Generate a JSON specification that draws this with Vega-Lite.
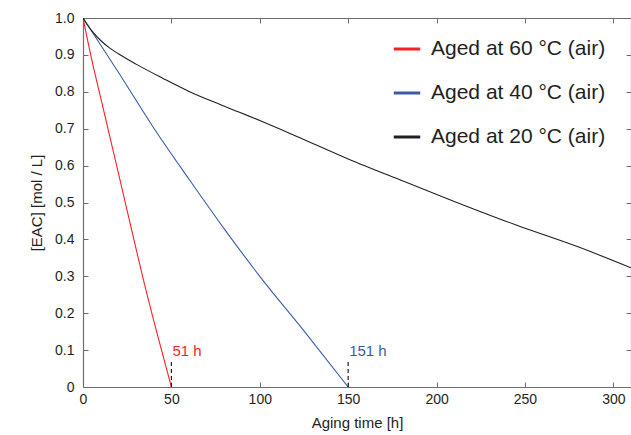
{
  "$schema": "https://vega.github.io/schema/vega-lite/v6.json",
  "width": 548,
  "height": 369,
  "autosize": {"type": "none"},
  "padding": {"left": 83, "top": 18, "right": 0, "bottom": 48},
  "background": "white",
  "config": {
    "font": "Liberation Sans",
    "view": {"stroke": null},
    "axis": {
      "domainColor": "#6d6e71",
      "domainWidth": 1.2,
      "tickColor": "#6d6e71",
      "tickWidth": 1,
      "tickSize": -5,
      "grid": false,
      "labelFlush": false,
      "labelColor": "#231f20",
      "labelFontSize": 14,
      "titleColor": "#231f20",
      "titleFontSize": 15,
      "titleFontWeight": "normal"
    }
  },
  "datasets": {
    "curves": [
      {"series": "Aged at 60 °C (air)", "t": 0, "v": 1.0},
      {"series": "Aged at 60 °C (air)", "t": 5, "v": 0.886},
      {"series": "Aged at 60 °C (air)", "t": 10, "v": 0.784},
      {"series": "Aged at 60 °C (air)", "t": 15, "v": 0.682},
      {"series": "Aged at 60 °C (air)", "t": 20, "v": 0.58},
      {"series": "Aged at 60 °C (air)", "t": 25, "v": 0.477},
      {"series": "Aged at 60 °C (air)", "t": 30, "v": 0.375},
      {"series": "Aged at 60 °C (air)", "t": 35, "v": 0.274},
      {"series": "Aged at 60 °C (air)", "t": 40, "v": 0.18},
      {"series": "Aged at 60 °C (air)", "t": 45, "v": 0.09},
      {"series": "Aged at 60 °C (air)", "t": 50, "v": 0.0},
      {"series": "Aged at 40 °C (air)", "t": 0, "v": 1.0},
      {"series": "Aged at 40 °C (air)", "t": 10, "v": 0.927},
      {"series": "Aged at 40 °C (air)", "t": 20, "v": 0.853},
      {"series": "Aged at 40 °C (air)", "t": 40, "v": 0.702},
      {"series": "Aged at 40 °C (air)", "t": 60, "v": 0.563},
      {"series": "Aged at 40 °C (air)", "t": 80, "v": 0.428},
      {"series": "Aged at 40 °C (air)", "t": 100, "v": 0.3},
      {"series": "Aged at 40 °C (air)", "t": 125, "v": 0.152},
      {"series": "Aged at 40 °C (air)", "t": 150, "v": 0.0},
      {"series": "Aged at 20 °C (air)", "t": 0, "v": 1.0},
      {"series": "Aged at 20 °C (air)", "t": 2, "v": 0.985},
      {"series": "Aged at 20 °C (air)", "t": 5, "v": 0.965},
      {"series": "Aged at 20 °C (air)", "t": 10, "v": 0.939},
      {"series": "Aged at 20 °C (air)", "t": 15, "v": 0.919},
      {"series": "Aged at 20 °C (air)", "t": 20, "v": 0.903},
      {"series": "Aged at 20 °C (air)", "t": 30, "v": 0.875},
      {"series": "Aged at 20 °C (air)", "t": 45, "v": 0.837},
      {"series": "Aged at 20 °C (air)", "t": 60, "v": 0.801},
      {"series": "Aged at 20 °C (air)", "t": 80, "v": 0.761},
      {"series": "Aged at 20 °C (air)", "t": 100, "v": 0.722},
      {"series": "Aged at 20 °C (air)", "t": 120, "v": 0.681},
      {"series": "Aged at 20 °C (air)", "t": 150, "v": 0.618},
      {"series": "Aged at 20 °C (air)", "t": 180, "v": 0.56},
      {"series": "Aged at 20 °C (air)", "t": 210, "v": 0.503},
      {"series": "Aged at 20 °C (air)", "t": 245, "v": 0.439},
      {"series": "Aged at 20 °C (air)", "t": 280, "v": 0.38},
      {"series": "Aged at 20 °C (air)", "t": 310, "v": 0.323}
    ],
    "marks": [
      {"label": "51 h", "t": 50, "v0": 0, "v1": 0.075, "vl": 0.084, "c": "60"},
      {"label": "151 h", "t": 150, "v0": 0, "v1": 0.075, "vl": 0.084, "c": "40"}
    ]
  },
  "layer": [
    {
      "data": {"name": "curves"},
      "mark": {"type": "line", "strokeWidth": 1.1, "clip": true, "interpolate": "monotone"},
      "encoding": {
        "x": {
          "field": "t", "type": "quantitative",
          "scale": {"domain": [0, 310], "nice": false, "zero": false},
          "axis": {
            "title": "Aging time [h]",
            "values": [0, 50, 100, 150, 200, 250, 300],
            "labelPadding": 10,
            "titleY": 40,
            "titleBaseline": "alphabetic"
          }
        },
        "y": {
          "field": "v", "type": "quantitative",
          "scale": {"domain": [0, 1], "nice": false},
          "axis": {
            "title": "[EAC] [mol / L]",
            "values": [0, 0.1, 0.2, 0.3, 0.4, 0.5, 0.6, 0.7, 0.8, 0.9, 1.0],
            "labelExpr": "datum.value == 0 ? '0' : format(datum.value, '.1f')",
            "labelPadding": 14,
            "titleX": -47,
            "titleY": 184.5,
            "titleBaseline": "middle",
            "titleAlign": "center",
            "titleAngle": -90
          }
        },
        "color": {
          "field": "series", "type": "nominal",
          "scale": {
            "domain": ["Aged at 60 °C (air)", "Aged at 40 °C (air)", "Aged at 20 °C (air)"],
            "range": ["#ff1f26", "#3b5ba9", "#231f20"]
          },
          "legend": {
            "title": null,
            "orient": "none",
            "legendX": 309,
            "legendY": 16,
            "symbolType": "stroke",
            "symbolStrokeWidth": 3,
            "symbolSize": 700,
            "labelFontSize": 21,
            "labelColor": "#231f20",
            "labelOffset": 9,
            "rowPadding": 19,
            "labelLimit": 300
          }
        }
      }
    },
    {
      "data": {"name": "curves"},
      "mark": {"type": "line", "opacity": 0},
      "encoding": {
        "x": {"field": "t", "type": "quantitative", "axis": {"orient": "top", "labels": false, "title": null, "values": [0, 50, 100, 150, 200, 250, 300]}},
        "y": {"field": "v", "type": "quantitative", "axis": {"orient": "right", "labels": false, "title": null, "values": [0, 0.1, 0.2, 0.3, 0.4, 0.5, 0.6, 0.7, 0.8, 0.9, 1.0]}}
      }
    },
    {
      "data": {"name": "marks"},
      "mark": {"type": "rule", "strokeDash": [4, 3], "color": "#231f20", "strokeWidth": 1.2},
      "encoding": {
        "x": {"field": "t", "type": "quantitative", "axis": null},
        "y": {"field": "v0", "type": "quantitative", "axis": null},
        "y2": {"field": "v1"}
      }
    },
    {
      "data": {"name": "marks"},
      "mark": {"type": "text", "align": "left", "baseline": "alphabetic", "fontSize": 15, "dx": 1},
      "encoding": {
        "x": {"field": "t", "type": "quantitative", "axis": null},
        "y": {"field": "vl", "type": "quantitative", "axis": null},
        "text": {"field": "label"},
        "color": {
          "field": "c", "type": "nominal",
          "scale": {"domain": ["60", "40"], "range": ["#ff1f26", "#3b5ba9"]},
          "legend": null
        }
      }
    }
  ],
  "resolve": {"axis": {"x": "independent", "y": "independent"}, "scale": {"color": "independent"}}
}
